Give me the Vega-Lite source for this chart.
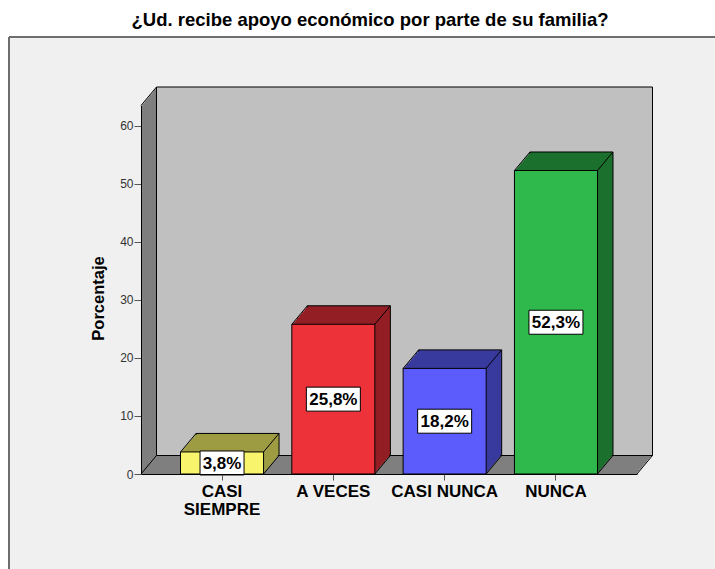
{
  "$schema": "https://vega.github.io/schema/vega-lite/v6.json",
  "width": 706,
  "height": 532,
  "autosize": "none",
  "padding": {"left": 9, "top": 37, "right": 0, "bottom": 0},
  "background": "white",
  "title": {
    "text": "¿Ud. recibe apoyo económico por parte de su familia?",
    "font": "Liberation Sans",
    "fontSize": 18.5,
    "fontWeight": "bold",
    "color": "black",
    "anchor": "middle",
    "offset": 8,
    "dx": 8
  },
  "data": {
    "values": [
      {"cat": "CASI SIEMPRE", "pct": 3.8, "label": "3,8%"},
      {"cat": "A VECES", "pct": 25.8, "label": "25,8%"},
      {"cat": "CASI NUNCA", "pct": 18.2, "label": "18,2%"},
      {"cat": "NUNCA", "pct": 52.3, "label": "52,3%"}
    ]
  },
  "config": {
    "view": {"fill": "#f0f0f0", "stroke": "#6e6e6e", "strokeWidth": 2, "strokeDash": [706, 1238, 532, 0]},
    "axis": {"labelFont": "Liberation Sans", "titleFont": "Liberation Sans"},
    "text": {"font": "Liberation Sans"}
  },
  "resolve": {"scale": {"x": "independent", "y": "independent"}},
  "layer": [
    {
      "data": {"values": [{"part": "pared"}]},
      "encoding": {
        "x": {"datum": 0, "type": "quantitative", "scale": {"domain": [0, 1], "range": [132, 628], "nice": false, "zero": false}, "axis": null},
        "x2": {"datum": 1},
        "y": {"datum": 0, "type": "quantitative", "scale": {"domain": [0, 63.5], "range": [437, 68.5], "nice": false, "zero": false}, "axis": null},
        "y2": {"datum": 63.5}
      },
      "layer": [
        {"mark": {"type": "rect", "color": "#7f7f7f", "xOffset": 0, "x2Offset": 0, "yOffset": 0, "y2Offset": 0}},
        {"mark": {"type": "rect", "color": "#7f7f7f", "xOffset": 1.29, "x2Offset": 1.29, "yOffset": -1.54, "y2Offset": -1.54}},
        {"mark": {"type": "rect", "color": "#7f7f7f", "xOffset": 2.58, "x2Offset": 2.58, "yOffset": -3.08, "y2Offset": -3.08}},
        {"mark": {"type": "rect", "color": "#7f7f7f", "xOffset": 3.88, "x2Offset": 3.88, "yOffset": -4.63, "y2Offset": -4.63}},
        {"mark": {"type": "rect", "color": "#7f7f7f", "xOffset": 5.17, "x2Offset": 5.17, "yOffset": -6.17, "y2Offset": -6.17}},
        {"mark": {"type": "rect", "color": "#7f7f7f", "xOffset": 6.46, "x2Offset": 6.46, "yOffset": -7.71, "y2Offset": -7.71}},
        {"mark": {"type": "rect", "color": "#7f7f7f", "xOffset": 7.75, "x2Offset": 7.75, "yOffset": -9.25, "y2Offset": -9.25}},
        {"mark": {"type": "rect", "color": "#7f7f7f", "xOffset": 9.04, "x2Offset": 9.04, "yOffset": -10.79, "y2Offset": -10.79}},
        {"mark": {"type": "rect", "color": "#7f7f7f", "xOffset": 10.33, "x2Offset": 10.33, "yOffset": -12.33, "y2Offset": -12.33}},
        {"mark": {"type": "rect", "color": "#7f7f7f", "xOffset": 11.63, "x2Offset": 11.63, "yOffset": -13.88, "y2Offset": -13.88}},
        {"mark": {"type": "rect", "color": "#7f7f7f", "xOffset": 12.92, "x2Offset": 12.92, "yOffset": -15.42, "y2Offset": -15.42}},
        {"mark": {"type": "rect", "color": "#7f7f7f", "xOffset": 14.21, "x2Offset": 14.21, "yOffset": -16.96, "y2Offset": -16.96}},
        {"mark": {"type": "rect", "color": "#c0c0c0", "stroke": "black", "strokeWidth": 1, "xOffset": 15.5, "x2Offset": 15.5, "yOffset": -18.5, "y2Offset": -18.5}},
        {
          "mark": {"type": "rule", "color": "black", "strokeWidth": 1, "x2Offset": 15.5, "y2Offset": -18.5},
          "encoding": {"x2": {"datum": 0}, "y": {"datum": 63.5, "type": "quantitative"}, "y2": {"datum": 63.5}}
        },
        {
          "mark": {"type": "rule", "color": "black", "strokeWidth": 1, "x2Offset": 15.5, "y2Offset": -18.5},
          "encoding": {"x2": {"datum": 0}, "y2": {"datum": 0}}
        },
        {
          "mark": {"type": "rule", "color": "black", "strokeWidth": 1, "x2Offset": 15.5, "y2Offset": -18.5},
          "encoding": {"x": {"datum": 1, "type": "quantitative"}, "x2": {"datum": 1}, "y2": {"datum": 0}}
        }
      ]
    },
    {
      "encoding": {
        "x": {
          "field": "cat", "type": "nominal", "sort": null,
          "scale": {"type": "band", "domain": ["CASI SIEMPRE", "A VECES", "CASI NUNCA", "NUNCA"], "range": [132, 628], "paddingInner": 0.254, "paddingOuter": 0.355},
          "axis": {
            "orient": "bottom", "offset": -95, "title": null, "labelAngle": 0,
            "labelFontSize": 17, "labelFontWeight": "bold", "labelColor": "black",
            "labelExpr": "datum.label == 'CASI SIEMPRE' ? ['CASI', 'SIEMPRE'] : datum.label",
            "labelLineHeight": 18, "labelPadding": 3, "labelLimit": 0,
            "tickSize": 6, "tickColor": "#555555", "domainColor": "black", "zindex": 1
          }
        },
        "y": {
          "field": "pct", "type": "quantitative",
          "scale": {"domain": [0, 63.5], "range": [437, 68.5], "nice": false, "zero": false},
          "axis": {
            "title": "Porcentaje", "orient": "left", "offset": -132, "values": [0, 10, 20, 30, 40, 50, 60],
            "grid": false, "labelFontSize": 12, "labelColor": "#333333", "labelPadding": 1,
            "tickSize": 7, "tickColor": "#555555", "domainColor": "black",
            "titleFontSize": 16.5, "titleFontWeight": "bold", "titleColor": "black",
            "titleX": -35, "titleY": 261, "titleBaseline": "bottom", "zindex": 1
          }
        }
      },
      "layer": [
        {
          "encoding": {
            "fill": {"field": "cat", "type": "nominal", "scale": {"domain": ["CASI SIEMPRE", "A VECES", "CASI NUNCA", "NUNCA"], "range": ["#9e9c43", "#931e24", "#393a9d", "#1c702e"]}, "legend": null}
          },
          "layer": [
            {"mark": {"type": "bar", "stroke": "black", "strokeWidth": 1, "xOffset": 15.5, "yOffset": -18.5, "y2Offset": -18.5}},
            {"mark": {"type": "bar", "xOffset": 14.21, "yOffset": -16.96, "y2Offset": -16.96}},
            {"mark": {"type": "bar", "xOffset": 12.92, "yOffset": -15.42, "y2Offset": -15.42}},
            {"mark": {"type": "bar", "xOffset": 11.63, "yOffset": -13.88, "y2Offset": -13.88}},
            {"mark": {"type": "bar", "xOffset": 10.33, "yOffset": -12.33, "y2Offset": -12.33}},
            {"mark": {"type": "bar", "xOffset": 9.04, "yOffset": -10.79, "y2Offset": -10.79}},
            {"mark": {"type": "bar", "xOffset": 7.75, "yOffset": -9.25, "y2Offset": -9.25}},
            {"mark": {"type": "bar", "xOffset": 6.46, "yOffset": -7.71, "y2Offset": -7.71}},
            {"mark": {"type": "bar", "xOffset": 5.17, "yOffset": -6.17, "y2Offset": -6.17}},
            {"mark": {"type": "bar", "xOffset": 3.88, "yOffset": -4.63, "y2Offset": -4.63}},
            {"mark": {"type": "bar", "xOffset": 2.58, "yOffset": -3.08, "y2Offset": -3.08}},
            {"mark": {"type": "bar", "xOffset": 1.29, "yOffset": -1.54, "y2Offset": -1.54}}
          ]
        },
        {
          "mark": {"type": "bar", "stroke": "black", "strokeWidth": 1},
          "encoding": {
            "color": {"field": "cat", "type": "nominal", "scale": {"domain": ["CASI SIEMPRE", "A VECES", "CASI NUNCA", "NUNCA"], "range": ["#f8f46c", "#ee3239", "#5b5cfb", "#2fb84b"]}, "legend": null}
          }
        },
        {
          "mark": {"type": "rule", "color": "black", "strokeWidth": 1, "xOffset": -41.5, "x2Offset": -26, "y2Offset": -18.5},
          "encoding": {"x2": {"field": "cat"}, "y2": {"field": "pct"}}
        },
        {
          "mark": {"type": "rule", "color": "black", "strokeWidth": 1, "xOffset": 41.5, "x2Offset": 57, "y2Offset": -18.5},
          "encoding": {"x2": {"field": "cat"}, "y2": {"field": "pct"}}
        },
        {
          "mark": {"type": "rule", "color": "black", "strokeWidth": 1, "xOffset": 41.5, "x2Offset": 57, "y2Offset": -18.5},
          "encoding": {"x2": {"field": "cat"}, "y": {"datum": 0, "type": "quantitative"}, "y2": {"datum": 0}}
        }
      ]
    },
    {
      "encoding": {
        "x": {
          "field": "cat", "type": "nominal", "sort": null,
          "scale": {"type": "band", "domain": ["CASI SIEMPRE", "A VECES", "CASI NUNCA", "NUNCA"], "range": [132, 628], "paddingInner": 0.254, "paddingOuter": 0.355},
          "axis": null
        },
        "y": {
          "field": "pct", "type": "quantitative",
          "scale": {"domain": [0, 127], "range": [437, 68.5], "nice": false, "zero": false},
          "axis": null
        }
      },
      "layer": [
        {
          "mark": {"type": "point", "filled": true, "fill": "white", "stroke": "black", "strokeWidth": 1, "opacity": 1, "size": 4},
          "encoding": {
            "shape": {"condition": {"test": "datum.pct < 10", "value": "M-22,-12H22V12H-22Z"}, "value": "M-27,-12H27V12H-27Z"}
          }
        },
        {
          "mark": {"type": "text", "font": "Liberation Sans", "fontSize": 17, "fontWeight": "bold", "color": "black", "baseline": "middle", "align": "center", "dy": 1},
          "encoding": {"text": {"field": "label"}}
        }
      ]
    }
  ]
}
